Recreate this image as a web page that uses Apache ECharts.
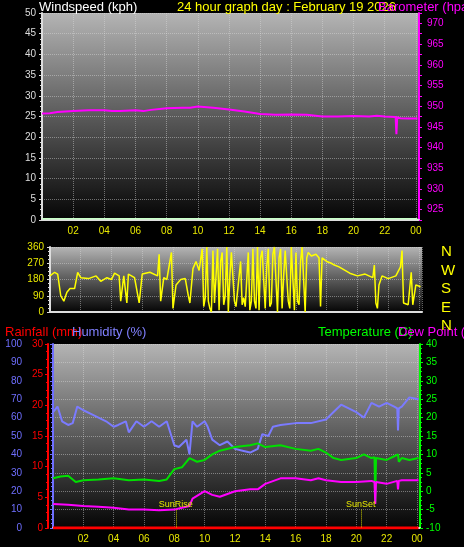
<!DOCTYPE html>
<html>
<head>
<meta charset="utf-8">
<script src="https://cdn.jsdelivr.net/npm/echarts@6/dist/echarts.min.js"></script>
<style>
html,body{margin:0;padding:0;background:#000;}
#chart{width:464px;height:547px;}
</style>
</head>
<body>
<div id="chart"></div>
<script>
// data, hours from midnight
var hourLabels = ['02','04','06','08','10','12','14','16','18','20','22','00'];

var windSpeed = [[0,0.3],[6,0.3],[12,0.3],[18,0.3],[24.1,0.3]];

var barometer = [[0,948.2],[0.5,948.3],[1,948.6],[1.5,948.7],[2,948.8],[3,949.0],[4,949.0],[4.5,948.8],[5,948.8],[6,949.0],[6.5,948.8],[7,949.1],[8,949.5],[9,949.6],[9.5,949.6],[10,949.9],[11,949.6],[12,949.2],[13,948.7],[14,948.1],[15,947.9],[16,948.0],[17,947.9],[18,947.5],[19,947.5],[20,947.6],[21,947.5],[21.5,947.7],[22,947.5],[22.7,947.4],[22.75,943.2],[22.8,947.3],[23,947.1],[23.5,947.0],[24.1,947.0]];

var windDir = [[0,200],[0.3,220],[0.5,210],[0.7,90],[0.9,60],[1.1,110],[1.3,130],[1.6,130],[1.8,220],[2,190],[2.5,185],[3,200],[3.3,170],[3.7,190],[4,180],[4.2,215],[4.5,200],[4.6,60],[4.8,200],[5,50],[5.1,210],[5.5,190],[5.8,50],[6,210],[6.5,220],[7,200],[7.1,320],[7.2,60],[7.4,190],[7.6,180],[7.9,330],[8,20],[8.2,150],[8.5,180],[8.8,185],[9,90],[9.1,50],[9.3,240],[9.5,280],[9.7,230],[9.9,350],[10,30],[10.1,80],[10.2,360],[10.3,60],[10.4,20],[10.5,0],[10.6,340],[10.7,50],[10.8,40],[10.9,350],[11,10],[11.1,280],[11.2,330],[11.3,40],[11.4,90],[11.5,360],[11.6,0],[11.7,200],[11.8,330],[12,60],[12.1,30],[12.2,20],[12.4,280],[12.5,40],[12.6,80],[12.7,30],[12.9,330],[13,10],[13.1,60],[13.2,350],[13.3,60],[13.4,20],[13.5,360],[13.6,10],[13.7,300],[13.8,340],[14,20],[14.1,250],[14.2,350],[14.3,30],[14.4,50],[14.5,320],[14.6,360],[14.8,0],[14.9,300],[15,350],[15.1,20],[15.2,200],[15.3,340],[15.5,60],[15.6,20],[15.7,360],[15.9,10],[16,330],[16.1,60],[16.2,40],[16.3,280],[16.4,360],[16.6,0],[16.7,300],[16.8,330],[17,310],[17.3,320],[17.5,300],[17.6,30],[17.7,300],[17.8,290],[18,280],[18.3,270],[18.5,260],[18.8,250],[19,240],[19.5,215],[20,200],[20.5,210],[21,190],[21.1,260],[21.2,50],[21.3,20],[21.4,150],[21.6,200],[22,185],[22.5,200],[22.8,250],[22.9,340],[23,50],[23.3,40],[23.5,220],[23.6,40],[23.8,150],[24.1,140]];

var humidity = [[0,63],[0.3,66],[0.6,58],[1,56],[1.3,57],[1.6,66],[2,64],[2.5,62],[3,60],[3.5,58],[4,55],[4.3,56],[4.8,58],[5,52],[5.5,58],[6,55],[6.5,58],[7,55],[7.5,58],[8,45],[8.3,44],[8.8,48],[9,40],[9.2,58],[9.5,55],[10,58],[10.2,55],[10.5,48],[11,45],[11.5,47],[12,43],[12.5,42],[13,41],[13.5,43],[13.8,51],[14.2,50],[14.5,55],[15,56],[16,57],[17,57],[18,59],[18.5,63],[19,67],[19.5,65],[20,63],[20.5,60],[21,68],[21.5,66],[22,68],[22.5,66],[22.7,65],[22.75,53],[22.8,65],[23,66],[23.5,71],[24.1,70]];

var temperature = [[0,3.5],[0.5,4],[1,4.2],[1.5,2.5],[2,3],[3,3.2],[4,3.5],[5,3],[6,3.2],[7,2.8],[7.5,3.2],[8,6],[8.5,6.5],[9,9],[9.5,8],[10,8.5],[10.5,10],[11,11],[12,12],[13,12.5],[13.5,13],[14,12],[15,12.5],[16,11.5],[17,11],[17.5,11.5],[18,10.5],[18.5,9],[19,8.5],[20,9],[20.5,10],[21,9],[21.2,9.2],[21.25,-3],[21.3,9],[22,8.5],[22.5,9.5],[22.75,10],[22.8,8],[23,9],[23.5,8.5],[24.1,9]];

var dewPoint = [[0,-3.5],[1,-3.7],[2,-4],[3,-4.2],[4,-4.5],[5,-5],[6,-5],[7,-5.2],[8,-5],[8.5,-4.5],[9,-4],[9.2,-2],[10,0],[10.5,-1],[11,-1.5],[12,0],[13,0.5],[13.5,0.5],[14,2],[15,3.5],[16,3.5],[17,3],[17.5,3.5],[18,3],[19,2.5],[20,2.5],[21,2.8],[21.2,2.5],[21.25,-3.5],[21.3,2.5],[22,2],[22.7,2.8],[22.75,0.5],[22.8,2.8],[23,3],[24.1,3]];

var rainfall = [[0,0],[24.1,0]];

var sunRise = 8.1, sunSet = 20.3;

var chart = echarts.init(document.getElementById('chart'));
var font = 'Liberation Sans';

function bg(){
	return new echarts.graphic.LinearGradient(0,0,0,1,[
		{offset:0,color:'#b4b4b4'},{offset:0.5,color:'#5a5a5a'},{offset:1,color:'#050505'}]);
}
function hourFmt(v){
	if(v==0) return '';
	var h=v%24;
	return (h<10?'0':'')+h;
}
function xAx(idx,show){
	return {
		type:'value',gridIndex:idx,min:0,max:24.2,interval:2,
		axisLine:{show:true,lineStyle:{color:'#ddd',width:2}},
		axisTick:{show:false},
		axisLabel:{show:show,color:'#e8e800',fontSize:10,fontFamily:font,formatter:hourFmt,margin:6},
		splitLine:{show:true,lineStyle:{color:'rgba(220,220,220,0.45)',type:'dotted'}}
	};
}
function yAx(o){
	var a={
		type:'value',
		axisLine:{show:true,lineStyle:{color:o.line||o.color,width:2}},
		axisTick:{show:true,length:3,lineStyle:{color:o.line||o.color}},
		minorTick:{show:true,length:2,splitNumber:4,lineStyle:{color:o.line||o.color}},
		axisLabel:{color:o.color,fontSize:10,fontFamily:font,margin:o.margin||6},
		splitLine:{show:false}
	};
	for(var k in o) if(k!='color'&&k!='line'&&k!='margin') a[k]=o[k];
	return a;
}

var option={
	backgroundColor:'#000',
	animation:false,
	title:[
		{text:'Windspeed (kph)',left:34,top:-4,textStyle:{color:'#fff',fontSize:13,fontWeight:'normal',fontFamily:font}},
		{text:'24 hour graph day : February 19 2026',left:172,top:-4,textStyle:{color:'#ffff00',fontSize:13,fontWeight:'normal',fontFamily:font}},
		{text:'Barometer (hpa)',left:373,top:-4,textStyle:{color:'#ff00ff',fontSize:13,fontWeight:'normal',fontFamily:font}},
		{text:'Rainfall (mm)',left:0,top:321,textStyle:{color:'#ff0000',fontSize:13,fontWeight:'normal',fontFamily:font}},
		{text:'Humidity (%)',left:67,top:321,textStyle:{color:'#8080ff',fontSize:13,fontWeight:'normal',fontFamily:font}},
		{text:'Temperature (C)',left:313,top:321,textStyle:{color:'#00ff00',fontSize:13,fontWeight:'normal',fontFamily:font}},
		{text:'Dew Point (°C)',left:393,top:321,textStyle:{color:'#ff00ff',fontSize:13,fontWeight:'normal',fontFamily:font}},
		{text:'N\nW\nS\nE\nN',left:436,top:238,textStyle:{color:'#ffff00',fontSize:15,fontWeight:'normal',fontFamily:font,lineHeight:18.5}}
	],
	grid:[
		{left:42,right:45,top:13,height:207,show:true,backgroundColor:bg(),borderWidth:0},
		{left:50,right:42,top:247,height:65,show:true,backgroundColor:bg(),borderWidth:0},
		{left:53,right:44,top:344,height:184,show:true,backgroundColor:bg(),borderWidth:0}
	],
	xAxis:[xAx(0,true),xAx(1,false),xAx(2,true)],
	yAxis:[
		yAx({gridIndex:0,position:'left',min:0,max:50,interval:5,color:'#ddd',splitLine:{show:true,lineStyle:{color:'rgba(220,220,220,0.45)',type:'dotted'}}}),
		yAx({gridIndex:0,position:'right',min:922.5,max:972.5,interval:2.5,color:'#ff00ff',minorTick:{show:false},
			axisLabel:{color:'#ff00ff',fontSize:10,fontFamily:font,formatter:function(v){return v%5==0?v:'';}}}),
		yAx({gridIndex:1,position:'left',min:0,max:360,interval:90,color:'#e8e800',line:'#ddd',splitLine:{show:true,lineStyle:{color:'rgba(220,220,220,0.45)',type:'dotted'}}}),
		yAx({gridIndex:2,position:'left',min:0,max:100,interval:10,color:'#6f6fff',offset:23,margin:8,splitLine:{show:true,lineStyle:{color:'rgba(220,220,220,0.45)',type:'dotted'}}}),
		yAx({gridIndex:2,position:'left',min:0,max:30,interval:5,color:'#ff0000',offset:5,margin:5}),
		yAx({gridIndex:2,position:'right',min:-10,max:40,interval:5,color:'#00ff00'})
	],
	series:[
		{type:'line',xAxisIndex:0,yAxisIndex:0,data:windSpeed,showSymbol:false,lineStyle:{color:'#c8ffc8',width:1.5}},
		{type:'line',xAxisIndex:0,yAxisIndex:1,data:barometer,showSymbol:false,lineStyle:{color:'#ff00ff',width:2}},
		{type:'line',xAxisIndex:1,yAxisIndex:2,data:windDir,showSymbol:false,lineStyle:{color:'#ffff00',width:1.5}},
		{type:'line',xAxisIndex:2,yAxisIndex:3,data:humidity,showSymbol:false,lineStyle:{color:'#7b7bff',width:2},
			markLine:{symbol:'none',silent:true,lineStyle:{color:'#c8c800',type:'dotted',width:1},
				label:{show:true,position:'start',color:'#e8e800',fontSize:9,fontFamily:font,distance:1},
				data:[
					[{coord:[sunRise,10],name:'SunRise'},{coord:[sunRise,0]}],
					[{coord:[sunSet,10],name:'SunSet'},{coord:[sunSet,0]}]
				]}},
		{type:'line',xAxisIndex:2,yAxisIndex:5,data:temperature,showSymbol:false,lineStyle:{color:'#00e000',width:2}},
		{type:'line',xAxisIndex:2,yAxisIndex:5,data:dewPoint,showSymbol:false,lineStyle:{color:'#ff00ff',width:2}},
		{type:'line',xAxisIndex:2,yAxisIndex:4,data:rainfall,showSymbol:false,lineStyle:{color:'#ff0000',width:3}}
	]
};
chart.setOption(option);
</script>
</body>
</html>
